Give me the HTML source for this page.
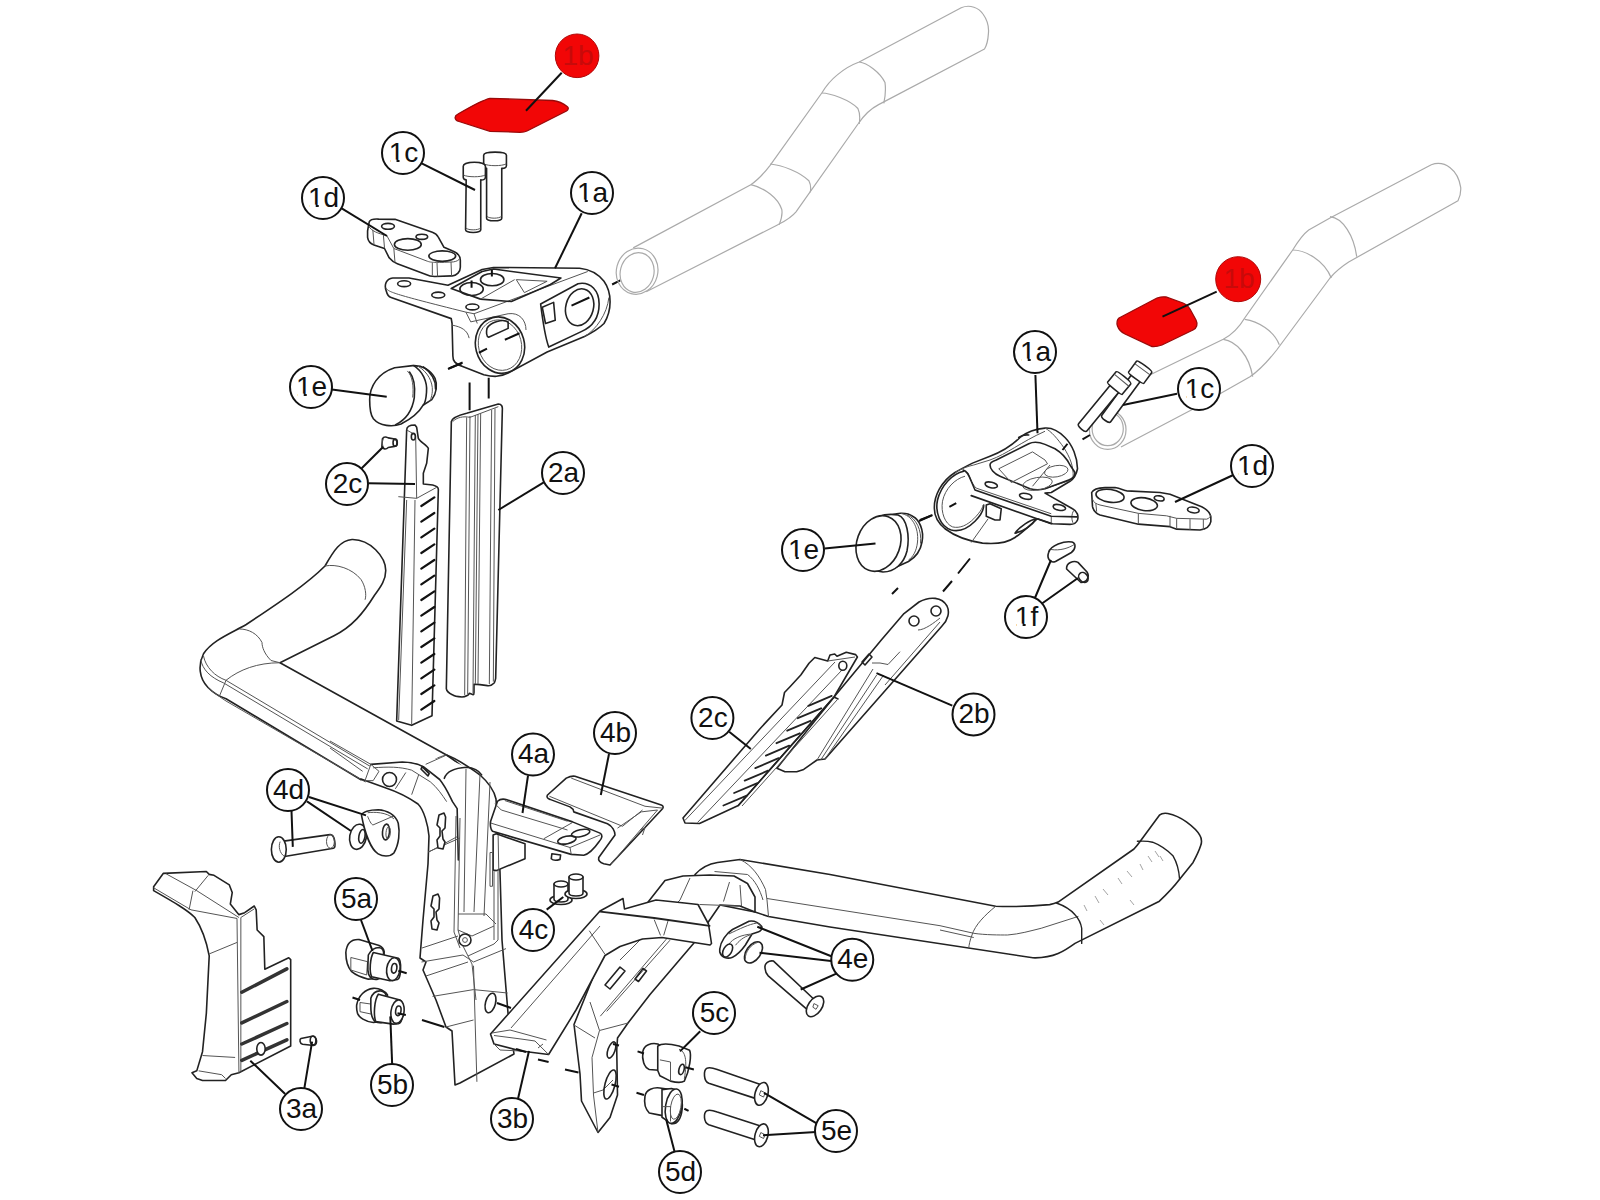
<!DOCTYPE html>
<html><head><meta charset="utf-8">
<style>
html,body{margin:0;padding:0;background:#fff;width:1600px;height:1200px;overflow:hidden}
svg{display:block}
.lb circle{fill:#fff;stroke:#111;stroke-width:2}
.lb text{font-family:"Liberation Sans",sans-serif;font-size:28px;fill:#111;text-anchor:middle;dominant-baseline:central}
.ld{stroke:#111;stroke-width:2;fill:none}
.o{fill:none;stroke:#222;stroke-width:1.6;stroke-linejoin:round;stroke-linecap:round}
.t{fill:none;stroke:#555;stroke-width:1;stroke-linejoin:round}
.g{fill:none;stroke:#aaa;stroke-width:1.2;stroke-linejoin:round}
.w{fill:#fff}
.ns{vector-effect:non-scaling-stroke}
</style></head><body>
<svg width="1600" height="1200" viewBox="0 0 1600 1200">
<rect width="1600" height="1200" fill="#fff"/>
<!--PARTS-->
<!-- top-left 1d & bolts: zoom [360,140] s=8.571 -->
<g transform="translate(360,140) scale(0.11667)">
<path class="o ns w" d="M80,700 C90,680 120,675 160,678 L300,680 L620,790 C650,800 660,810 670,830 L720,920 L790,950 C830,965 860,990 860,1030 L860,1090 C860,1130 830,1160 790,1165 L640,1170 C610,1170 580,1160 560,1150 L320,1060 C290,1050 270,1035 250,1010 L210,930 L120,900 C90,890 70,870 65,835 L65,780 C70,750 75,720 80,700 Z"/>
<path class="t ns" d="M75,740 C100,780 150,800 230,820 L290,930 L580,1040 C610,1050 640,1052 800,1045 C830,1040 850,1030 858,1010"/>
<ellipse class="o ns" cx="240" cy="740" rx="55" ry="25"/>
<ellipse class="o ns" cx="530" cy="830" rx="50" ry="22"/>
<ellipse class="o ns" cx="410" cy="895" rx="115" ry="50"/>
<ellipse class="o ns" cx="705" cy="995" rx="115" ry="45"/>
<path class="t ns" d="M110,770 L120,895 M200,810 L210,925 M290,930 L300,1050 M620,1050 L620,1160 M660,1052 L665,1170 M780,1045 L785,1165"/>
<path class="o ns w" d="M1060,130 C1060,95 1255,95 1255,130 L1255,220 C1255,240 1230,245 1215,242 L1215,670 C1215,700 1085,700 1085,670 L1085,242 C1070,242 1060,235 1060,220 Z"/>
<path class="t ns" d="M1062,205 C1100,225 1215,225 1253,205 M1088,655 C1110,675 1190,675 1212,655"/>
<path class="o ns w" d="M885,225 C885,180 1075,180 1075,225 L1075,320 C1075,340 1050,345 1035,342 L1035,770 C1035,800 905,800 905,770 L910,342 C895,342 885,330 885,320 Z"/>
<path class="t ns" d="M887,300 C920,320 1040,320 1073,300 M908,755 C930,775 1010,775 1033,755"/>
</g>
<!-- top-left 1a: zoom [370,200] s=6.154 -->
<g transform="translate(370,200) scale(0.1625)">
<path class="o ns w" d="M100,560 C85,520 100,485 140,480 L240,480 L480,525 L690,428 L760,415 L1290,420 C1340,425 1400,450 1440,500 C1490,570 1490,680 1440,760 C1400,800 1360,820 1320,840 L1090,935 L850,1065 C800,1090 760,1090 700,1075 L570,1025 C520,1005 510,990 510,960 L505,760 L500,730 L130,600 C110,595 105,580 100,560 Z"/>
<path class="t ns" d="M98,540 C110,565 130,575 590,690 L640,700 L660,760 M590,690 L620,750 L850,700 C920,690 960,740 960,800 M640,700 L1340,440 M505,770 C560,780 600,800 610,850 M1320,840 C1390,800 1460,700 1470,600"/>
<path class="o ns" d="M500,545 L690,440 L760,425 L1175,480 L1110,520 L870,625 L680,610 Z"/>
<ellipse class="o ns" cx="625" cy="548" rx="72" ry="40"/>
<ellipse class="o ns" cx="752" cy="490" rx="72" ry="38"/>
<path class="t ns" d="M900,490 L1090,500 L950,570 Z M680,610 L890,490"/>
<ellipse class="o ns" cx="210" cy="515" rx="40" ry="18"/>
<ellipse class="o ns" cx="420" cy="585" rx="40" ry="18"/>
<ellipse class="o ns" cx="630" cy="658" rx="40" ry="18"/>
<ellipse class="o ns" cx="800" cy="893" rx="150" ry="175" transform="rotate(-15 800 893)"/>
<ellipse class="t ns" cx="800" cy="893" rx="132" ry="157" transform="rotate(-15 800 893)"/>
<path class="o ns" d="M720,790 C740,750 820,730 850,750 L850,790 L730,845 C715,840 715,810 720,790 Z"/>
<path class="o ns" d="M1050,640 L1280,515 C1360,500 1410,560 1410,640 C1410,720 1370,780 1300,810 L1100,905 C1080,850 1060,720 1050,640 Z"/>
<ellipse class="o ns" cx="1290" cy="660" rx="85" ry="115" transform="rotate(15 1290 660)"/>
<path class="o ns" d="M1060,660 L1130,630 L1140,740 L1080,760 Z"/>
<path class="ld ns" d="M480,1040 L570,1000 M670,940 L720,915 M830,860 L920,820 M1240,650 L1350,600 M1490,520 L1540,495 M750,430 L750,470 M625,495 L625,540"/>
</g>
<!-- 1e cap left, 2c, 2a: zoom [250,330] s=3 -->
<g transform="translate(250,330) scale(0.33333)">

<!-- 2c -->
<path class="o ns w" d="M470,300 C470,290 480,285 495,285 L500,292 L505,325 C510,335 530,345 535,355 L530,400 L520,430 L520,462 L548,465 C560,468 566,472 565,480 L546,1157 L485,1186 L440,1173 Z"/>
<path class="t ns" d="M495,510 L485,1184 M470,510 L446,1170 M470,300 L497,315 L500,505 L560,472 M500,505 L445,500"/>
<ellipse class="o ns" cx="490" cy="320" rx="6" ry="10"/>
<path class="o ns" style="stroke-width:2.2;stroke:#111" d="M514,528 l39,-26 M514,575 l39,-26 M514,622 l39,-26 M514,669 l39,-26 M514,716 l39,-26 M514,763 l39,-26 M514,810 l39,-26 M514,857 l39,-26 M514,904 l39,-26 M514,951 l39,-26 M514,998 l39,-26 M514,1045 l39,-26 M514,1092 l39,-26 M514,1139 l39,-26"/>

<!-- 2a -->
<path class="o ns w" d="M589,1076 L604,275 C606,262 630,255 650,250 L745,222 C755,222 758,230 757,240 L737,1045 C735,1055 733,1060 730.5,1060.5 C725,1066 718,1068 712.5,1067 L690,1064 L672,1062.75 L672,1087.5 C672,1092 671,1094 669.75,1094 L658.5,1089.75 C656,1094 654,1096 651.75,1096.5 C645,1100 640,1101 636,1101 C620,1100 612,1098 606.75,1094 C598,1090 590,1084 589,1076 Z"/>
<path class="t ns" d="M650,262 L644,1095 M660,258 L653,1092 M676,255 L669,1090 M684,252 L676,1062 M692,250 L684,1062 M725,240 L718,1062 M735,235 L730,1055 M608,275 C620,262 640,258 660,262 L745,230"/>
<path class="ld ns" d="M658.8,157.8 L658.8,240.9 M716.1,143.4 L716.1,205.8 M597,115 L635,100"/>
</g>
<!-- left basebar: zoom [190,530] s=4.444 -->
<g transform="translate(190,530) scale(0.225)">
<path class="o ns w" d="M600,160 C640,90 670,45 720,42 C800,40 870,120 870,180 C870,220 850,250 820,290 C770,370 720,430 640,470 L400,590 L1140,1000 C1200,1040 1290,1110 1340,1200 L1040,1200 L800,1100 L760,1110 L160,750 C130,740 100,720 80,700 C40,660 35,600 60,550 C100,490 180,460 250,420 C400,320 520,240 600,160 Z"/>
<path class="t ns" d="M600,160 C650,150 720,170 760,220 C780,250 785,290 778,310 M220,440 C260,440 300,460 320,500 C320,520 330,550 360,580 L400,590 M60,560 C70,610 110,650 160,668 L800,1050 M48,575 C55,620 90,655 150,680 L790,1062 M160,668 L130,740 M160,668 C220,620 300,590 400,590 M80,700 C100,720 130,740 160,760 L780,1120 M1140,1000 C1110,1005 1060,1030 1040,1060"/>
</g>
<!-- 1e left cap: zoom [350,355] s=9.41 -->
<g transform="translate(350,355) scale(0.10627)">
<path class="o ns w" d="M185,420 C185,300 260,170 420,120 L590,100 C680,95 760,140 800,220 C825,280 815,360 770,420 L690,470 C650,540 580,600 480,650 C400,680 280,670 220,600 C190,560 185,480 185,420 Z"/>
<path class="o ns" d="M560,160 C600,210 615,300 605,400 C590,500 540,600 430,655 M600,100 C680,150 730,250 720,350 C715,420 700,460 690,470 M690,112 C770,170 810,250 805,320"/>
<path class="t ns" d="M640,105 C730,160 780,250 775,340 C770,400 755,430 740,440 M540,150 C590,200 600,300 590,400"/>
<path class="o ns w" d="M305,790 C315,770 340,770 360,780 L420,790 C450,795 450,860 420,860 L360,870 C340,890 310,890 300,860 Z"/>
<ellipse class="o ns" cx="425" cy="825" rx="20" ry="33"/>
<path class="t ns" d="M320,780 C300,800 300,850 320,875"/>
</g>
<!-- red shapes -->
<path d="M458,114 C470,107 482,100 490,98.3 L552.6,100.5 C558,101 563,103 567.5,106.8 C569,108 568,110 566.5,111 L527,131 C525,132 523,132.3 520,132.3 L490,131.3 L459,121.5 C454,120 454,116 458,114 Z" fill="#f20606" stroke="#9a0a0a" stroke-width="1.3"/>
<path d="M1119,318 L1157,298 C1160,297 1163,296.5 1166,297 L1183,303 C1186,304 1188,306 1190,309 L1196,320 C1198,324 1197,328 1193,330 L1162,345 C1159,346 1156,347 1152,346.5 L1125,334 C1117,330 1115,322 1119,318 Z" fill="#f20606" stroke="#9a0a0a" stroke-width="1.3"/>
<!-- left extension tube (grey) -->
<g class="g">
<path d="M633.2,247.9 L750.8,184.7 C758,180 765,172 770.1,165.3 L821.8,93 C826,86 831,80 837.3,74.9 C843,70 851,65 859.2,62 L961.2,7.7 C970,4 979,8 983,14 C988,21 989,28 988.4,33.6 C988,40 987,45 984.5,49 L878.6,104.6 C870,109 864,115 858,124 L796,211.8 C791,218 785,221 777.9,224.7 L646.2,291.8"/>
<ellipse cx="637.1" cy="271.2" rx="20.7" ry="23.2" transform="rotate(15 637.1 271.2)"/>
<ellipse cx="637.1" cy="272.5" rx="16.8" ry="20" transform="rotate(15 637.1 272.5)"/>
<path d="M750.8,184.7 C765,188 778,198 781.7,209.2 C783,215 781,220 779.2,224.7 M770.1,164 C782,165 800,172 808.9,180.8 C811,185 811,189 810.2,192.4 M821.8,93 C830,93 850,100 857.9,108.5 C860,113 860,119 859.2,124 M859.2,62 C867,63 880,72 885,82.6 C886,90 885,98 883.8,103.3"/>
</g>
<!-- right extension tube (grey) -->
<g class="g">
<path d="M1125,387 L1223.3,339.3 C1233,334 1240,326 1244.7,318 L1292.7,250 C1297,243 1302,235 1308.7,230 L1330,218 L1431.3,164.7 C1445,160 1458,170 1460.7,187.3 C1461,192 1460,197 1458,200.7 L1348.7,262 C1341,267 1335,272 1330,278 L1276.7,350 C1268,361 1260,370 1250,376.7 L1191.3,410 L1121,447"/>
<ellipse cx="1107.7" cy="429.7" rx="18.3" ry="19.7"/>
<ellipse cx="1107.7" cy="428.7" rx="15.6" ry="17"/>
<path d="M1223.3,339.3 C1236,341 1249,355 1252.7,376.7 M1244.7,319.3 C1258,321 1274,331 1279.3,344.7 M1292.7,250 C1305,250 1324,260 1331.3,278 M1330,216.7 C1343,218 1354,236 1356.7,256.7"/>
</g>
<!-- right 1a: zoom [760,320] s=3.333 -->
<g transform="translate(760,320) scale(0.3)">
<path class="ld ns" d="M530,670 L575,650 M610,905 L640,870 M660,845 L700,795"/>
</g>
<g transform="translate(920,410) scale(0.125)">
<path class="o ns w" d="M115,790 C110,690 170,570 280,500 C330,470 370,450 420,425 L560,370 C640,340 720,300 800,220 C850,180 930,150 1000,145 C1060,140 1110,170 1160,220 C1220,280 1260,380 1260,470 C1250,520 1230,550 1200,570 L1050,660 L1000,665 L1220,790 C1260,810 1270,850 1260,880 C1250,905 1230,915 1200,915 L1060,910 L940,870 C880,920 820,980 760,1020 C700,1060 600,1075 500,1065 C400,1050 280,1010 200,950 C140,900 115,850 115,790 Z"/>
<path class="t ns" d="M280,500 C330,470 380,450 430,440 L560,400 C700,350 800,260 1000,170 M1000,145 C1050,170 1100,230 1150,300 C1200,380 1230,450 1225,540 M545,870 L410,1060 M1050,850 L1050,910 M1230,805 C1210,830 1210,890 1230,910 M380,500 C400,540 420,600 450,625 L1050,830 M1000,630 L1210,560"/>
<path class="o ns" d="M345,480 C375,485 390,520 410,570 L440,640 L1050,850 L1255,855 M410,685 L1050,910"/>
<path class="o ns" d="M560,440 C560,420 580,410 610,400 L870,270 C900,255 950,255 1000,275 L1080,310 C1130,340 1170,380 1200,440 L1240,500 C1240,530 1220,550 1190,560 L1000,630 C960,640 920,640 880,630 L640,530 C590,510 560,470 560,440 Z"/>
<path class="t ns" d="M630,470 L900,335 L1000,400 L1020,430 L730,580 Z M900,610 L1040,440"/>
<ellipse class="t ns" cx="940" cy="590" rx="120" ry="50" transform="rotate(-10 940 590)"/>
<ellipse class="t ns" cx="1090" cy="490" rx="95" ry="45" transform="rotate(-10 1090 490)"/>
<ellipse class="o ns" cx="570" cy="600" rx="50" ry="22" transform="rotate(12 570 600)"/>
<ellipse class="o ns" cx="845" cy="690" rx="50" ry="22" transform="rotate(12 845 690)"/>
<ellipse class="o ns" cx="1115" cy="780" rx="50" ry="22" transform="rotate(12 1115 780)"/>
<path class="o ns" d="M350,490 C260,510 170,600 140,720 C120,820 160,930 250,960 C310,975 380,950 440,890 C480,850 510,800 510,760"/>
<path class="t ns" d="M360,530 C280,550 200,630 180,730 C165,820 200,910 260,935 C320,950 380,920 430,870 C470,830 500,790 505,760"/>
<path class="o ns w" d="M530,760 L560,750 L650,790 L640,880 L600,880 L530,850 Z"/>
<path class="o ns" d="M760,985 C800,930 880,880 930,870 C900,920 830,970 760,985 Z M790,220 C810,205 850,198 870,200"/>
<path class="ld ns" d="M235,775 L290,745 M0,880 L90,845 M1140,320 L1180,270 M1300,235 L1360,200"/>
</g>
<g transform="translate(760,320) scale(0.3)">
<!-- 1e right -->
<path class="o ns w" d="M420,660 C450,640 490,640 510,655 C530,665 548,700 540,740 C535,770 520,790 495,805 L440,830 Z"/>
<path class="t ns" d="M470,645 C505,650 530,690 525,740 C522,770 510,790 495,800 M490,650 C520,660 540,700 535,745"/>
<path class="o ns w" d="M360,680 C390,650 430,645 460,650 C490,660 500,720 490,770 C480,810 450,840 410,840 L380,835 Z"/>
<ellipse class="o ns w" cx="395" cy="745" rx="72" ry="95" transform="rotate(20 395 745)"/>
<!-- 1f -->
<path class="o ns w" d="M962,775 C968,752 1015,735 1040,740 C1055,745 1052,765 1038,775 L985,805 C968,812 955,795 962,775 Z"/>
<path class="t ns" d="M970,765 C1000,770 1030,760 1048,748"/>
<path class="o ns w" d="M1022,830 C1020,810 1045,800 1060,808 L1090,840 C1100,855 1090,875 1070,875 Z"/>
<ellipse class="o ns" cx="1078" cy="858" rx="14" ry="18" transform="rotate(-40 1078 858)"/>
</g>
<!-- right 1c bolts -->
<g transform="translate(1140,372.5) rotate(126.3)">
<path class="o w" d="M6.5,-5.5 L57,-5.5 C60,-5.5 60,5.5 57,5.5 L6.5,5.5 Z"/>
<path class="o w" d="M-7,-9.5 L6.5,-9.5 C8,-9.5 8,9.5 6.5,9.5 L-7,9.5 C-9,9.5 -9,-9.5 -7,-9.5 Z"/>
<path class="t" d="M-4,-9.5 L-4,9.5"/>
</g>
<g transform="translate(1119,383.3) rotate(129.4)">
<path class="o w" d="M6.5,-5.5 L57,-5.5 C60,-5.5 60,5.5 57,5.5 L6.5,5.5 Z"/>
<path class="o w" d="M-7,-9.5 L6.5,-9.5 C8,-9.5 8,9.5 6.5,9.5 L-7,9.5 C-9,9.5 -9,-9.5 -7,-9.5 Z"/>
<path class="t" d="M-4,-9.5 L-4,9.5"/>
</g>
<!-- right 1d plate: zoom [1060,340] s=6 -->
<g transform="translate(1060,340) scale(0.16667)">
<path class="o ns w" d="M190,915 C200,895 230,888 270,886 L330,885 C360,890 380,900 400,905 L600,915 L660,925 L850,1000 C880,1015 900,1035 905,1060 L905,1090 C900,1115 880,1135 840,1140 L700,1135 L660,1120 L470,1105 L240,1050 C215,1040 200,1020 195,1000 Z"/>
<path class="t ns" d="M195,955 C200,975 220,985 240,990 L470,1040 L640,1055 L700,1070 L880,1075 C895,1070 903,1060 905,1050 M215,980 L220,1030 M470,1040 L470,1105 M660,1055 L660,1120 M700,1070 L700,1135 M780,1075 L780,1140 M860,1075 L860,1140"/>
<ellipse class="o ns" cx="300" cy="935" rx="85" ry="38" transform="rotate(8 300 935)"/>
<ellipse class="o ns" cx="505" cy="985" rx="80" ry="38" transform="rotate(8 505 985)"/>
<ellipse class="o ns" cx="595" cy="950" rx="30" ry="15" transform="rotate(8 595 950)"/>
<ellipse class="o ns" cx="800" cy="1020" rx="35" ry="17" transform="rotate(8 800 1020)"/>
</g>
<!-- right basebar global -->
<g>
<path class="o w" d="M695,874.5 C700,869 708,864 717.5,862.5 L740,859.5 L830,874.5 L995.7,906.3 C1015,907 1035,906 1049.7,904.6 C1053,904 1056,903 1058.1,902.1 L1134,849 C1137,846 1139,843 1140.8,840.5 L1159.4,815.2 C1162,813 1165,813 1167.8,813.5 C1175,815 1181,818 1186.4,821.9 C1192,826 1197,830 1199.9,835.4 C1202,839 1202,842 1200.7,845.6 C1199,851 1196,857 1193.1,862.4 L1179.6,879.3 C1173,888 1166,895 1159.4,901.2 L1075,943.4 C1070,947 1064,951 1058.1,953.6 C1050,957 1040,958 1032.8,957.8 L830,927 L768.5,916.5 L755,912 L720,905 Z"/>
<path class="t" d="M767,898.5 L940,925.7 L973.75,933.3 C985,935 1000,935 1007.5,935 C1020,934 1030,931 1041.25,928.25 L1078.4,916.4 M940,930 L973.75,937.5 M995.7,906.3 C985,915 975,925 972,935 C970,940 969,945 968.7,948.5 M740,859.5 C752,865 760,877 765.5,889.5 L767,900 L768.5,916.5 M714.5,871.5 L747.5,874.5 C755,880 760,890 763,900 M745,882 C748,888 750,896 750,906"/>
<path class="o" d="M1056.4,903 C1065,906 1071,910 1075,914.75 C1079,919 1081,924 1081.7,928.25 L1081.7,943.4 M1137.4,841.3 C1143,841 1148,841 1152.6,842.2 C1160,845 1167,850 1172.9,855.7 C1176,861 1179,870 1179.6,879.3" style="stroke-width:1.4"/>
<path d="M1084,905 l3,6 M1095,896 l4,7 M1103,889 l5,6 M1118,878 l4,6 M1127,871 l5,6 M1140,864 l3,6 M1148,856 l4,6 M1155,851 l4,6 M1160,856 l3,5 M1100,920 l4,5 M1130,900 l4,5" stroke="#999" stroke-width="0.9" fill="none"/>
</g>
<!-- stem global -->
<g>
<path fill="#fff" d="M361,779 L386,788 L405,795 L418,804 L426,819 L429,836 L428,864 L423,920 L420,958 L426,962 L423,970 L436,1000 L446,1027 L452,1031 L455,1085 L460,1083 L514,1054 L508,1013 L502,940 L500,872 L496,799 L491,788 L470,769 L446,758 L372,763 Z"/>
<path class="o" d="M361,779 L386,788 C395,791 405,795 418,804 C424,810 428,825 429,836 L428,864 L423,920 L420,958 L426,962 L423,970 L436,1000 L446,1027 L452,1031 L455,1085 L460,1083 L514,1054 M446.5,755 C460,760 470,768 480,775 C488,782 494,790 496,799 L500,872 L502,940 L508,1013 L514,1054"/>
</g>
<g transform="translate(330,720) scale(0.11666)">
<path class="o ns" d="M350,380 L620,360 C700,360 760,380 800,400 L940,510 C990,570 1020,640 1050,700 L1090,760 L1100,1200"/>
<path class="t ns" d="M300,520 L350,380 L420,440 L370,520 Z M0,180 L350,380 M0,240 L280,440 M560,590 L650,450 M700,640 L760,470 M820,380 L1000,300 M850,1130 L1090,1000 M370,410 C500,400 600,400 700,430 L860,530 C920,580 960,640 1000,700"/>
<circle class="o ns" cx="510" cy="510" r="60"/>
<path class="o ns" d="M980,500 C1000,440 1080,410 1170,405 C1230,410 1280,440 1300,470"/>
<path class="o ns" d="M780,420 L840,480 L850,460 L790,400 Z"/>
</g>
<g transform="translate(400,760) scale(0.2)">
<path class="t ns" d="M300,290 L290,850 L310,920 L340,980 L360,1020 L380,1200 M280,280 L270,860 L300,940 M330,45 L320,760 M400,70 L370,760 M450,110 L420,780 M290,770 L430,770 L480,820 M290,850 L360,880 L470,830 M340,980 L470,920 L490,900 M470,450 L470,900 M490,360 L490,900 M140,460 L300,390 M110,940 L290,880 M130,1080 L340,1010"/>
<circle class="o ns w" cx="325" cy="900" r="30"/>
<circle class="t ns" cx="325" cy="900" r="12"/>
<path class="o ns w" d="M195,275 L220,265 L228,285 L225,340 L210,355 L215,395 L225,410 L215,445 L190,440 L185,400 L200,380 L200,340 L185,325 Z"/>
<path class="o ns w" d="M165,680 L190,670 L198,690 L195,745 L180,760 L185,800 L195,815 L185,850 L160,845 L155,805 L170,785 L170,745 L155,730 Z"/>
</g>
<g>
<path class="t" d="M421.5,962 L463,955 L473.5,962 L506,948.6 M432.5,996.4 L473.5,989.6 L507.6,993 M473.5,965.7 L476.9,1081.8 M446,1027 L473.5,1020"/>
<ellipse class="o" cx="490.5" cy="1003" rx="5" ry="10" transform="rotate(15 490.5 1003)"/>
<path class="ld" d="M422,1020 L444.4,1027 M497,1003 L511,1008"/>
</g>
<!-- bridge + blade global -->
<g>
<path class="o w" d="M574,1024.5 L580,1074 L581.5,1101 L598,1132.5 L610,1117.5 L617.5,1095 L616.75,1050 L617.5,1038 L628,1023 L650,994.5 L693.5,943.5 L720,905 L740,906 L755,912 L755,897 L747.5,883.5 L734,876 L710,875 L683,876 L665,880.5 L648.5,901.5 L600,960 Z"/>
<path class="t" d="M590,1002 L599.5,1030.5 L592,1057.5 L593.5,1095 L598,1132.5 M599.5,1030.5 L628,1023 M593.5,1093 L603,1090 L613,1080 M574,1025 L595,1038 M620,960 L680,900 L690,878 M699.5,904.5 L740,906 M729.5,882 L723.5,901.5 M740,885 L741.5,906 M600.3,1016.2 L666.8,938.6 M606.7,1011.4 L670,940.2"/>
<ellipse class="o" cx="611.5" cy="1050" rx="3.5" ry="8.5" transform="rotate(20 611.5 1050)"/>
<ellipse class="o" cx="610" cy="1084.5" rx="5" ry="15" transform="rotate(15 610 1084.5)"/>
<path class="o" d="M605,985 L620,967 L625,971 L610,989 Z M635,979 L643,968.5 L646.5,971 L638.5,981.5 Z"/>
<path class="ld" d="M565,1069.5 L578.5,1072.5 M613,1044 L619,1045.5 M611.5,1084.5 L619,1086.75"/>
</g>
<!-- 3b global -->
<g>
<path class="o w" d="M490.5,1034 L600,911 L623,898.5 L624.5,909 L656,900 L684.5,903 L698,904.5 L708.5,924 L711.5,943.5 L710,945 L662,937.5 L642.5,939 L620,946.5 L605,955.5 L576,1010 L548.6,1054.5 L521,1051 L494,1044 Z"/>
<path class="t" d="M654.2,919.6 L660.5,935.4 M668.4,919.6 L663.7,935.4 M589.25,930.7 L605,954.4 M492,1033 L510,1030 L546.5,1040 M494,1035.5 L521,1039 L535,1041 L548.6,1054.5 M511,1028 L600,926 M494,1044 L500,1050 L521,1051 M538,1048 L543,1044"/>
<path class="o" d="M600.3,911.7 L654.2,918 L709.6,925.9" style="stroke-width:1.8"/>
<path class="ld" d="M516,1049 L526,1052 M538,1059.5 L548.6,1062"/>
</g>
<!-- 4a / 4b: zoom [480,760] s=8 -->
<g transform="translate(480,760) scale(0.125)">
<path class="o ns w" d="M105,600 L105,880 L130,885 L360,790 L360,670 L130,590 Z"/>
<path class="t ns" d="M145,600 L150,880 M80,740 L80,1010 L100,1010 L100,740 Z"/>
<path class="o ns w" d="M575,750 L570,790 C580,800 610,805 640,795 L645,760 Z"/>
<path class="o ns w" d="M85,490 L140,330 C160,312 190,310 215,318 L740,495 L960,585 C985,600 975,630 955,650 C920,700 880,750 830,762 L730,755 L100,570 C85,560 80,520 85,490 Z"/>
<path class="t ns" d="M88,505 L720,700 L960,600 M200,325 L700,490 M510,630 L740,500 M720,700 L730,755 M120,350 L170,400 L700,560"/>
<ellipse class="o ns" cx="695" cy="640" rx="75" ry="30" transform="rotate(-12 695 640)"/>
<ellipse class="o ns" cx="805" cy="585" rx="75" ry="28" transform="rotate(-12 805 585)"/>
<path class="o ns w" d="M540,280 C530,295 540,310 560,315 L720,375 L745,395 L750,415 L1020,510 C1060,530 1080,570 1080,600 L950,780 C945,800 960,820 990,830 L1040,840 L1460,390 C1470,375 1465,365 1450,360 L760,130 C730,125 710,135 690,145 Z"/>
<path class="t ns" d="M555,290 L1140,530 M730,145 L1320,370 L1460,385 M1140,530 L1300,400 M1100,545 L1290,415 L1420,400 L1050,830 M1280,560 L1320,540 L1300,600"/>
</g>
<!-- 4c pins -->
<g>
<ellipse class="o w" cx="561" cy="900" rx="11" ry="4.5"/>
<path class="o w" d="M554,884 L554,899 C554,903 568,903 568,899 L568,884 Z"/>
<ellipse class="o w" cx="561" cy="884" rx="7" ry="3"/>
<ellipse class="o w" cx="576" cy="894" rx="11" ry="4.5"/>
<path class="o w" d="M569,877 L569,893 C569,897 583,897 583,893 L583,877 Z"/>
<ellipse class="o w" cx="576" cy="877" rx="7" ry="3"/>
</g>
<!-- 2b global -->
<g>
<path class="o w" d="M904,613.6 L919,602 C930,596 942,597 947,606 C950,612 948,620 942,626 L825,759 L817,760 L803.7,769.4 L796.7,771.7 L785,771.7 L776.9,768.2 L834,697 L881.3,640 Z"/>
<path class="t" d="M873,669 L817,760 M876.7,675 L820.7,760 M883.7,675 L825,759 M872,663 L880,663 L888,664.5 L900,651.7 M940,622 L885,685 M918,630 C925,630 935,622 940,618"/>
<circle class="o" cx="914" cy="621" r="5"/>
<circle class="o" cx="936" cy="611" r="5"/>
<path class="o" d="M862,662 L869,654 L872,657 L865,665 Z"/>
<path class="ld" d="M892,594 L898,588"/>
</g>
<!-- 2c mid global -->
<g>
<path class="o w" d="M683,818 L760,728.7 L782,705 L784.5,692.5 L790,686.7 L800.8,675 L809,663.3 L814.8,657.5 L827.7,661 L830,655 L834.7,654 L837,656.3 L846.3,652.25 L855.7,654.6 L857.4,657 L834,697 L738.3,805.5 L699.5,823.5 L685,823 Z"/>
<path class="t" d="M684.7,820.7 L835,662 M697.5,822.5 L842,670 M827.7,661 L855,657 M742,806 L837,700"/>
<ellipse class="o" cx="842.8" cy="665.7" rx="4" ry="4.5"/>
<path class="o" d="M738.3,805.5 L834,697 L838,699"/>
<path class="o" style="stroke-width:1.8" d="M808.4,705.8 l23.3,-9.9 M797.8,718.2 l23.3,-9.9 M787.2,730.7 l23.3,-9.9 M776.5,743.2 l23.3,-9.9 M765.9,755.6 l23.3,-9.9 M755.3,768.1 l23.3,-9.9 M744.7,780.6 l23.3,-9.9 M734.1,793.0 l23.3,-9.9 M723.4,805.5 l23.3,-9.9"/>
</g>
<!-- 4d global zoom [260,790] s=11.43 -->
<g transform="translate(260,790) scale(0.0875)">
<path class="o ns w" d="M230,590 L800,510 C860,505 870,660 840,665 L280,760 Z"/>
<ellipse class="t ns" cx="805" cy="588" rx="45" ry="78"/>
<ellipse class="o ns w" cx="215" cy="680" rx="85" ry="145"/>
<path class="t ns" d="M230,590 C210,640 220,720 280,760"/>
<ellipse class="o ns w" cx="1120" cy="535" rx="95" ry="145" transform="rotate(10 1120 535)"/>
<ellipse class="o ns" cx="1165" cy="530" rx="35" ry="80" transform="rotate(10 1165 530)"/>
<path class="o ns w" d="M1160,290 C1170,250 1250,225 1350,225 C1450,230 1550,280 1580,380 C1600,480 1590,620 1530,720 C1480,770 1400,760 1350,730 C1270,680 1200,500 1160,290 Z"/>
<path class="t ns" d="M1230,300 C1250,350 1270,390 1290,400 L1520,300 M1230,260 C1300,250 1450,250 1530,330"/>
<ellipse class="o ns" cx="1440" cy="480" rx="40" ry="90" transform="rotate(5 1440 480)"/>
<ellipse class="t ns" cx="1465" cy="490" rx="25" ry="70" transform="rotate(5 1465 490)"/>
</g>
<!-- 3a global zoom [145,860] s=5.2167 -->
<g transform="translate(145,860) scale(0.19169)">
<path class="o ns w" d="M45,140 L95,70 L320,60 L335,75 L360,80 L440,130 L455,170 L445,230 L490,285 L520,275 L570,240 L580,260 L585,365 L620,400 L625,570 L750,510 L760,520 L760,970 L490,1110 L450,1120 L420,1150 L300,1150 L270,1140 L245,1110 L270,1100 L300,1000 L320,800 L335,500 C320,420 300,360 260,300 C220,260 150,220 45,160 Z"/>
<path class="t ns" d="M45,145 L240,260 L480,305 L490,1110 M110,72 L270,160 L490,300 M250,160 L230,260 M330,80 L260,165 M335,490 L480,430 M300,1020 L470,1030 M500,300 L500,1105 M500,300 L570,255 M280,1100 L400,1120 L420,1140"/>
<path class="o ns" style="stroke-width:3.5;stroke:#333" d="M505,690 L740,568 M505,850 L740,738 M505,960 L740,853 M505,1045 L740,938"/>
<ellipse class="o ns w" cx="605" cy="985" rx="22" ry="33"/>
</g>
<g transform="translate(130,820) scale(0.31671)">
<path class="o ns w" d="M540,690 L575,683 C590,680 595,710 580,712 L545,708 C535,705 535,692 540,690 Z"/>
<ellipse class="o ns" cx="578" cy="696" rx="9" ry="14"/>
<!-- 5a -->
</g>
<g transform="translate(340,925) scale(0.08333)">
<path class="o ns w" d="M70,330 C80,220 140,170 230,175 L470,245 C505,260 525,290 530,320 L520,630 L400,645 L340,650 C260,630 200,610 140,560 C95,510 70,430 70,330 Z"/>
<path class="t ns" d="M130,390 L330,440 L320,600 L130,540 Z"/>
<path class="o ns w" d="M340,360 C370,300 420,270 470,270 C520,280 530,320 520,360 L500,620 C480,650 430,660 390,645 C350,630 330,560 335,480 Z"/>
<path class="o ns w" d="M400,330 L700,400 C740,420 735,640 690,655 L600,670 L380,620 C350,560 360,400 400,330 Z"/>
<ellipse class="o ns w" cx="640" cy="530" rx="80" ry="138" transform="rotate(8 640 530)"/>
<ellipse class="o ns" cx="650" cy="520" rx="32" ry="58" transform="rotate(8 650 520)"/>
<path class="ld ns" d="M700,550 L800,580"/>
<!-- 5b -->
<path class="o ns w" d="M200,960 C220,850 300,770 400,760 C470,755 540,790 570,840 L560,1150 L400,1170 C300,1160 230,1110 210,1060 C200,1030 198,990 200,960 Z"/>
<path class="t ns" d="M240,930 L380,950 L380,1070 L240,1040 Z"/>
<path class="o ns w" d="M370,880 C390,820 430,790 480,790 C540,800 560,840 555,880 L540,1150 C520,1175 470,1180 430,1165 C390,1140 370,1060 370,980 Z"/>
<path class="o ns w" d="M460,830 L720,900 C770,920 770,1170 700,1185 L640,1190 L430,1160 C400,1090 410,900 460,830 Z"/>
<ellipse class="o ns w" cx="690" cy="1040" rx="78" ry="142" transform="rotate(8 690 1040)"/>
<ellipse class="o ns" cx="700" cy="1030" rx="32" ry="58" transform="rotate(8 700 1030)"/>
<path class="ld ns" d="M150,870 L240,900 M690,1060 L790,1080"/>
</g>
<!-- 4e lug/washer: zoom [710,910] s=13.33 -->
<g transform="translate(710,910) scale(0.075)">
<path class="o ns w" d="M130,520 C140,420 220,310 300,260 L520,150 C580,140 640,160 690,220 C700,250 680,280 650,290 L560,320 L470,470 C420,540 360,600 300,630 C230,660 150,630 130,560 Z"/>
<path class="t ns" d="M250,320 C400,250 520,190 620,175 C650,180 670,200 680,230 M250,460 C300,380 420,330 560,320 M340,470 C380,420 440,360 540,330"/>
<ellipse class="o ns" cx="235" cy="540" rx="55" ry="95" transform="rotate(30 235 540)"/>
<ellipse class="o ns w" cx="580" cy="565" rx="95" ry="160" transform="rotate(35 580 565)"/>
<path class="t ns" d="M470,650 C470,560 540,460 640,430"/>
</g>
<!-- 5c 5d 5e 4e bolt: zoom [560,960] s=4.706 -->
<g transform="translate(560,960) scale(0.2125)">
<path class="o ns w" d="M965,40 C960,15 985,0 1005,5 L1190,180 L1165,235 L980,75 C970,65 966,55 965,40 Z"/>
<ellipse class="o ns w" cx="1200" cy="218" rx="32" ry="55" transform="rotate(35 1200 218)"/>
<path class="t ns" d="M1195,205 L1215,215 L1205,232 L1190,222 Z"/>
<path class="o ns w" d="M390,430 C395,400 430,388 460,395 L480,410 L480,520 L420,515 C395,505 385,470 390,430 Z"/>
<path class="o ns w" d="M460,405 C480,390 520,395 560,405 L610,425 C620,445 610,520 585,570 C570,580 540,575 520,570 L470,545 L460,520 Z"/>
<path class="t ns" d="M470,470 L520,480 L520,570 M560,420 C590,430 600,470 585,560"/>
<ellipse class="o ns" cx="572" cy="515" rx="12" ry="25" transform="rotate(15 572 515)"/>
<path class="ld ns" d="M365,430 L395,440 M590,505 L630,515 M360,625 L395,635 M585,700 L605,710"/>
<path class="o ns w" d="M400,640 C405,610 440,598 470,602 L520,610 L520,740 L470,730 L420,720 C400,700 395,670 400,640 Z"/>
<path class="o ns w" d="M480,610 L525,605 C560,610 580,650 575,700 C570,750 550,775 525,770 L480,740 Z"/>
<ellipse class="o ns w" cx="535" cy="688" rx="38" ry="82" transform="rotate(10 535 688)"/>
<ellipse class="t ns" cx="545" cy="690" rx="24" ry="60" transform="rotate(10 545 690)"/>
<path class="t ns" d="M485,690 L520,690 L520,760"/>
<path class="o ns w" d="M690,510 C700,505 720,508 740,515 L940,585 L915,650 L700,580 C675,570 675,520 690,510 Z"/>
<ellipse class="o ns w" cx="948" cy="630" rx="30" ry="55" transform="rotate(15 948 630)"/>
<path class="t ns" d="M945,615 L965,625 L958,645 L938,635 Z"/>
<path class="o ns w" d="M690,710 C700,705 720,708 740,715 L940,780 L915,845 L700,775 C675,765 675,720 690,710 Z"/>
<ellipse class="o ns w" cx="948" cy="825" rx="30" ry="55" transform="rotate(15 948 825)"/>
<path class="t ns" d="M945,812 L965,822 L958,840 L938,830 Z"/>
</g>

<!--LEADERS-->
<g class="ld">
<path d="M561.7,72.7 L526,110.7"/>
<path d="M421.7,163.3 L475,190"/>
<path d="M341.7,208.3 L387,236"/>
<path d="M581.7,213.3 L555,268.3"/>
<path d="M330,389.3 L386.7,396.7"/>
<path d="M368.3,483.3 L415,484"/>
<path d="M361.7,468.3 L383.3,446.7"/>
<path d="M545,481.7 L498.3,510"/>
<path d="M528,775.6 L522.5,813"/>
<path d="M609,754 L600.8,795"/>
<path d="M309,797 L366,815.4 M307,801.4 L351,831 M291.5,811 L292.8,846.9"/>
<path d="M546.7,909.6 L563.3,897"/>
<path d="M361,920 L372.5,951"/>
<path d="M285.2,1094 L250.3,1060.7 M304.2,1089.2 L312.1,1041.7"/>
<path d="M392.2,1065.4 L390.3,1016.4"/>
<path d="M518,1098.7 L529,1051"/>
<path d="M729.2,731.7 L750.8,749"/>
<path d="M952.3,705.7 L876.5,673.2"/>
<path d="M833.2,957 L757.3,926.7 M833.2,961.3 L759.5,952.7 M839.7,972.2 L800.7,989.5"/>
<path d="M700.2,1031.2 L680,1051.4"/>
<path d="M674.7,1152.3 L666.2,1119.4"/>
<path d="M817.1,1123.6 L764,1092.8 M816,1132.1 L763,1135.3"/>
<path d="M1216.7,291.7 L1162.5,316.7"/>
<path d="M1177,393.75 L1123,405"/>
<path d="M1233.3,475 L1175,502"/>
<path d="M1035.4,375 L1037.5,433.3"/>
<path d="M824.5,548.6 L875.5,543.5"/>
<path d="M1034.5,599 L1051,560 M1042,603.5 L1078,578"/>
</g>
<!--LABELS-->
<g class="lb">
<g><circle cx="403" cy="153" r="21"/><text x="403.5" y="152">1c</text><rect x="390.71" y="159.60" width="5.80" height="2.8" fill="#fff" stroke="none"/><rect x="399.51" y="159.60" width="4.8" height="2.8" fill="#fff" stroke="none"/></g>
<g><circle cx="323" cy="198" r="21"/><text x="323.5" y="197">1d</text><rect x="309.93" y="204.60" width="5.80" height="2.8" fill="#fff" stroke="none"/><rect x="318.73" y="204.60" width="4.8" height="2.8" fill="#fff" stroke="none"/></g>
<g><circle cx="592" cy="193" r="21"/><text x="592.5" y="192">1a</text><rect x="578.93" y="199.60" width="5.80" height="2.8" fill="#fff" stroke="none"/><rect x="587.73" y="199.60" width="4.8" height="2.8" fill="#fff" stroke="none"/></g>
<g><circle cx="311" cy="387" r="21"/><text x="311.5" y="386">1e</text><rect x="297.93" y="393.60" width="5.80" height="2.8" fill="#fff" stroke="none"/><rect x="306.73" y="393.60" width="4.8" height="2.8" fill="#fff" stroke="none"/></g>
<g><circle cx="347" cy="484" r="21"/><text x="347.5" y="483">2c</text></g>
<g><circle cx="563" cy="473" r="21"/><text x="563.5" y="472">2a</text></g>
<g><circle cx="1035" cy="352" r="21"/><text x="1035.5" y="351">1a</text><rect x="1021.93" y="358.60" width="5.80" height="2.8" fill="#fff" stroke="none"/><rect x="1030.73" y="358.60" width="4.8" height="2.8" fill="#fff" stroke="none"/></g>
<g><circle cx="1199" cy="389" r="21"/><text x="1199.5" y="388">1c</text><rect x="1186.71" y="395.60" width="5.80" height="2.8" fill="#fff" stroke="none"/><rect x="1195.51" y="395.60" width="4.8" height="2.8" fill="#fff" stroke="none"/></g>
<g><circle cx="1252" cy="466" r="21"/><text x="1252.5" y="465">1d</text><rect x="1238.93" y="472.60" width="5.80" height="2.8" fill="#fff" stroke="none"/><rect x="1247.73" y="472.60" width="4.8" height="2.8" fill="#fff" stroke="none"/></g>
<g><circle cx="803" cy="550" r="21"/><text x="803.5" y="549">1e</text><rect x="789.93" y="556.60" width="5.80" height="2.8" fill="#fff" stroke="none"/><rect x="798.73" y="556.60" width="4.8" height="2.8" fill="#fff" stroke="none"/></g>
<g><circle cx="1026" cy="617" r="21"/><text x="1026.5" y="616">1f</text><rect x="1016.83" y="623.60" width="5.80" height="2.8" fill="#fff" stroke="none"/><rect x="1025.62" y="623.60" width="4.8" height="2.8" fill="#fff" stroke="none"/></g>
<g><circle cx="712.4" cy="718" r="21"/><text x="712.9" y="717">2c</text></g>
<g><circle cx="973.5" cy="714.4" r="21"/><text x="974" y="713.4">2b</text></g>
<g><circle cx="533" cy="754.5" r="21"/><text x="533.5" y="753.5">4a</text></g>
<g><circle cx="615" cy="733" r="21"/><text x="615.5" y="732">4b</text></g>
<g><circle cx="288" cy="790" r="21"/><text x="288.5" y="789">4d</text></g>
<g><circle cx="356" cy="899" r="21"/><text x="356.5" y="898">5a</text></g>
<g><circle cx="533" cy="930" r="21"/><text x="533.5" y="929">4c</text></g>
<g><circle cx="852.25" cy="959.75" r="21"/><text x="852.75" y="958.75">4e</text></g>
<g><circle cx="714" cy="1013" r="21"/><text x="714.5" y="1012">5c</text></g>
<g><circle cx="301" cy="1109" r="21"/><text x="301.5" y="1108">3a</text></g>
<g><circle cx="392" cy="1085" r="21"/><text x="392.5" y="1084">5b</text></g>
<g><circle cx="512" cy="1119" r="21"/><text x="512.5" y="1118">3b</text></g>
<g><circle cx="680" cy="1172" r="21"/><text x="680.5" y="1171">5d</text></g>
<g><circle cx="836" cy="1131" r="21"/><text x="836.5" y="1130">5e</text></g>
</g>
<!--RED-->
<g>
<circle cx="577.1" cy="55.8" r="21.8" fill="#f20606" stroke="#b00808" stroke-width="1"/>
<text x="578" y="55" font-family="Liberation Sans" font-size="28" fill="#c80a0a" text-anchor="middle" dominant-baseline="central">1b</text>
<circle cx="1238.2" cy="279.2" r="22.5" fill="#f20606" stroke="#b00808" stroke-width="1"/>
<text x="1239" y="278.5" font-family="Liberation Sans" font-size="28" fill="#c80a0a" text-anchor="middle" dominant-baseline="central">1b</text>
</g>
</svg>
</body></html>
